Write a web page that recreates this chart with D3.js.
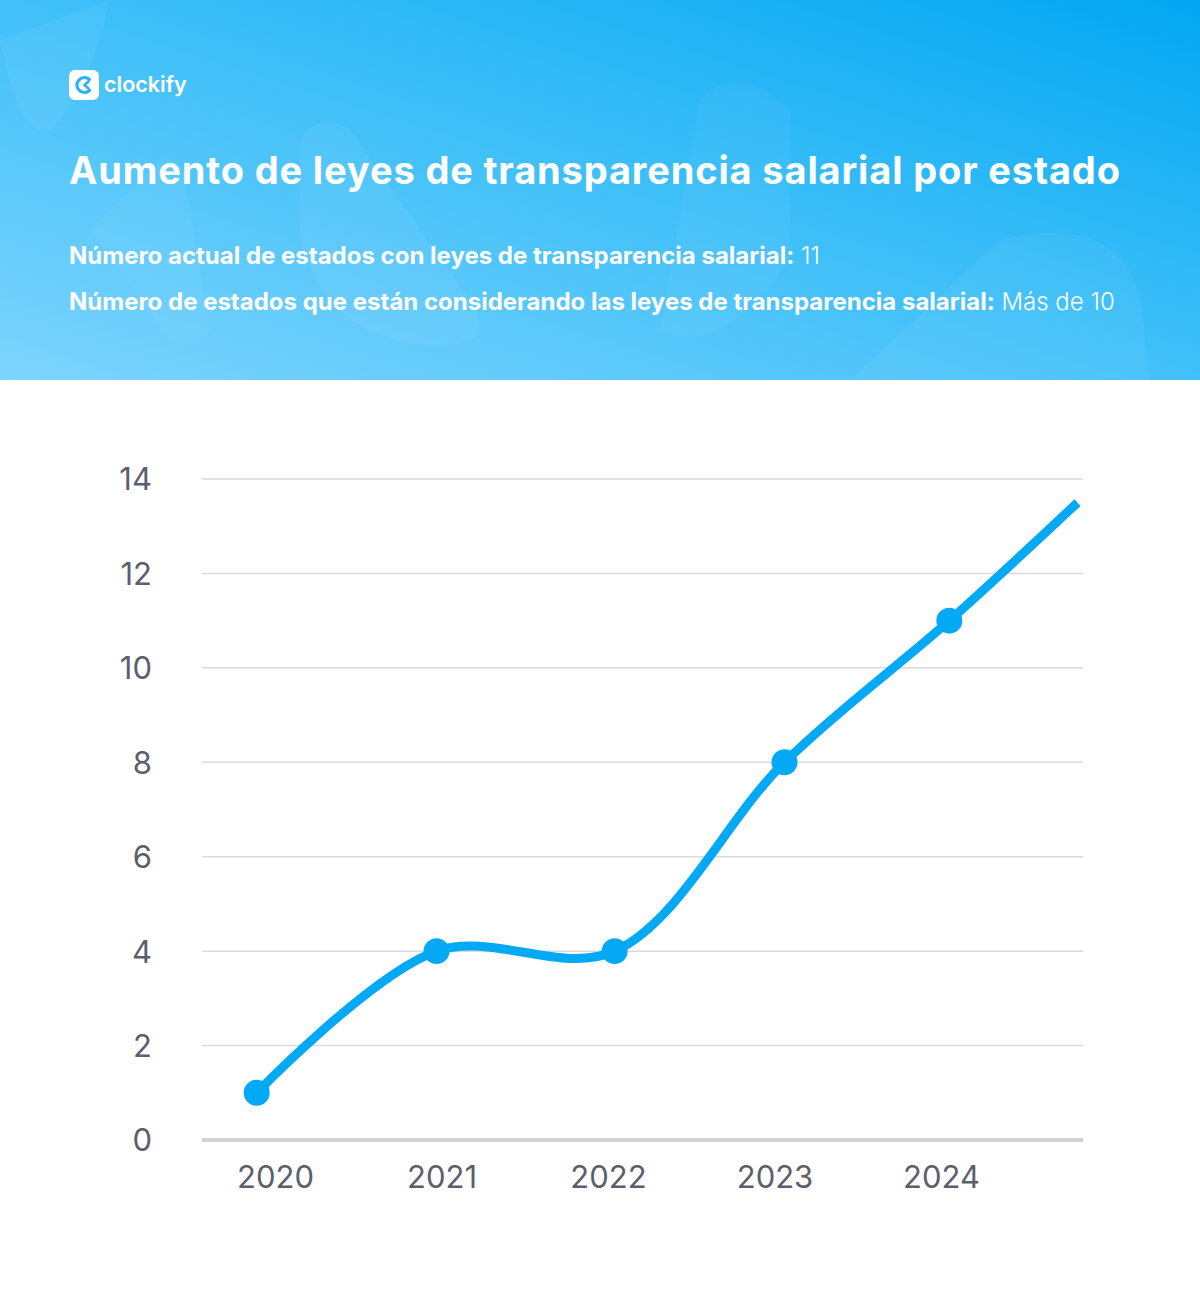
<!DOCTYPE html>
<html><head><meta charset="utf-8">
<script src="https://cdn.jsdelivr.net/npm/d3@7"></script>
<style>
html,body{margin:0;padding:0;background:#fff;}
svg{display:block;font-family:Inter, "Noto Sans", sans-serif;}
</style></head>
<body>
<script>
// ---- data ----
const years = [2020, 2021, 2022, 2023, 2024];
const xLabels = ["2020", "2021", "2022", "2023", "2024"];
// positions of points along the year axis
const pointYears = [2019.89, 2020.97, 2022.04, 2023.06, 2024.05];
const pointValues = [1, 4, 4, 8, 11];
// trailing projection point (no marker)
const tailYear = 2024.82;
const tailValue = 13.5;
const yTicks = [0, 2, 4, 6, 8, 10, 12, 14];
const title = "Aumento de leyes de transparencia salarial por estado";
const stat1Label = "Número actual de estados con leyes de transparencia salarial:";
const stat1Value = " 11";
const stat2Label = "Número de estados que están considerando las leyes de transparencia salarial:";
const stat2Value = " Más de 10";

const W = 1200, H = 1290;
const svg = d3.select("body").append("svg").attr("width", W).attr("height", H);
const defs = svg.append("defs");
const grad = defs.append("linearGradient").attr("id", "hdr")
  .attr("x1", "0").attr("y1", "1").attr("x2", "1").attr("y2", "0");
grad.append("stop").attr("offset", "0%").attr("stop-color", "#7dd4fd");
grad.append("stop").attr("offset", "55%").attr("stop-color", "#3bbef8");
grad.append("stop").attr("offset", "100%").attr("stop-color", "#02a7f2");

// header
svg.append("rect").attr("x", 0).attr("y", 0).attr("width", W).attr("height", 380).attr("fill", "url(#hdr)");
const deco = svg.append("g").attr("fill", "#ffffff").attr("fill-opacity", 0.05);
deco.append("path").attr("d", "M300,140 Q320,110 350,130 L470,300 Q500,345 440,345 Q330,345 300,240 Z");
deco.append("path").attr("d", "M0,40 Q20,140 50,130 Q90,90 110,0 Z");
deco.append("path").attr("d", "M850,380 L1000,240 Q1120,210 1140,300 L1150,380 Z");
deco.append("path").attr("d", "M660,330 L700,100 Q740,60 790,110 L790,260 Q720,360 660,330 Z").attr("fill-opacity", 0.04);
deco.append("path").attr("d", "M90,230 L160,160 Q180,150 185,180 L210,330 Q200,350 170,340 Z").attr("fill-opacity", 0.04);

// logo
const logo = svg.append("g").attr("transform", "translate(69,70)");
logo.append("rect").attr("width", 30).attr("height", 30).attr("rx", 6).attr("fill", "#fff");
logo.append("path").attr("d", "M20.5,9.5 A7.5,7.5 0 1 0 20.5,20.5")
  .attr("fill", "none").attr("stroke", "#29b3f5").attr("stroke-width", 3.2).attr("stroke-linecap", "round");
logo.append("path").attr("d", "M19.5,11.5 L15.5,15 L19.5,18.5")
  .attr("fill", "none").attr("stroke", "#29b3f5").attr("stroke-width", 2.6).attr("stroke-linecap", "round").attr("stroke-linejoin", "round");
svg.append("text").attr("x", 104).attr("y", 92).attr("fill", "#fff")
  .attr("font-size", 21.5).attr("font-weight", 600).text("clockify");

svg.append("text").attr("x", 69).attr("y", 184).attr("fill", "#fff")
  .attr("font-size", 38).attr("font-weight", 700).attr("textLength", 1051).text(title);

function stat(y, lab, val) {
  const t = svg.append("text").attr("x", 69).attr("y", y).attr("fill", "#fff").attr("font-size", 24);
  t.append("tspan").attr("font-weight", 700).text(lab);
  t.append("tspan").attr("font-weight", 300).text(val);
}
stat(264, stat1Label, stat1Value);
stat(310, stat2Label, stat2Value);

// chart
const x = d3.scaleLinear().domain([2020, 2024]).range([275, 941]);
const y = d3.scaleLinear().domain([0, 14]).range([1140, 479]);
const left = 202, right = 1083;

const grid = svg.append("g");
grid.selectAll("line").data(yTicks.filter(d => d > 0)).join("line")
  .attr("x1", left).attr("x2", right).attr("y1", d => y(d)).attr("y2", d => y(d))
  .attr("stroke", "#d9d9de").attr("stroke-width", 1.5);
svg.append("line").attr("x1", left).attr("x2", right).attr("y1", y(0)).attr("y2", y(0))
  .attr("stroke", "#d2d2d6").attr("stroke-width", 4);

const yAxis = d3.axisLeft(y).tickValues(yTicks).tickSize(0).tickPadding(0).tickFormat(d3.format("d"));
const ga = svg.append("g").attr("transform", "translate(152,0)").call(yAxis);
ga.select(".domain").remove();
ga.selectAll("text").attr("font-size", 31).attr("fill", "#5c5e6d").attr("font-family", "Inter, sans-serif").attr("dy", "0.35em");

const xAxis = d3.axisBottom(x).tickValues(years).tickSize(0).tickPadding(0).tickFormat((d, i) => xLabels[i]);
const gx = svg.append("g").attr("transform", "translate(0,1164)").call(xAxis);
gx.select(".domain").remove();
gx.selectAll("text").attr("font-size", 31).attr("fill", "#5c5e6d").attr("font-family", "Inter, sans-serif").attr("dy", "0.76em");

const pts = pointYears.map((d, i) => [d, pointValues[i]]);
const linePts = pts.concat([[tailYear, tailValue]]);
const line = d3.line().x(d => x(d[0])).y(d => y(d[1])).curve(d3.curveCatmullRom.alpha(0.5));
svg.append("path").attr("d", line(linePts)).attr("fill", "none")
  .attr("stroke", "#03a9f4").attr("stroke-width", 9);
svg.append("g").selectAll("circle").data(pts).join("circle")
  .attr("cx", d => x(d[0])).attr("cy", d => y(d[1])).attr("r", 13).attr("fill", "#03a9f4");
</script>
</body></html>
